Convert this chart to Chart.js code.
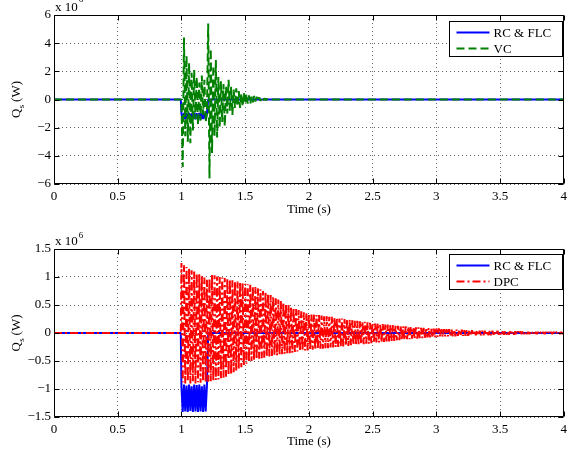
<!DOCTYPE html>
<html>
<head>
<meta charset="utf-8">
<script src="https://cdn.jsdelivr.net/npm/chart.js@4/dist/chart.umd.min.js"></script>
<style>
html, body { margin: 0; padding: 0; background: #fff; }
#wrap { position: relative; width: 572px; height: 454px; }
canvas { position: absolute; left: 0; }
</style>
</head>
<body>
<div id="wrap">
  <canvas id="topChart" width="572" height="230" style="top:0;width:572px;height:230px"></canvas>
  <canvas id="bottomChart" width="572" height="224" style="top:230px;width:572px;height:224px"></canvas>
</div>
<script>
// axis ticks
const timeTicks = [0, 0.5, 1, 1.5, 2, 2.5, 3, 3.5, 4];
const topTicks = [-6, -4, -2, 0, 2, 4, 6];
const bottomTicks = [-1.5, -1, -0.5, 0, 0.5, 1, 1.5];

// each series is zero, then a burst sampled from *Start every *Step, then zero again
// RC & FLC (upper plot), 1.0 s .. 1.2 s
const rcTopStart = 1.0, rcTopStep = 0.01;
const rcTopQ = [-1.0, -1.38, -0.95, -1.4, -0.97, -1.36, -0.95, -1.4, -1.0, -1.38,
                -0.95, -1.4, -0.98, -1.36, -0.95, -1.4, -0.97, -1.38, -0.95, -1.4, -1.0];

// VC (upper plot), 1.0 s .. 1.7 s
const vcStart = 1.0, vcStep = 0.01;
const vcQ = [0, -4.8, 4.4, -2.6, 3.1, -3.0, 2.6, -3.1, 1.9, -2.2,
             2.1, -1.4, 1.6, -1.8, 1.2, -1.5, 1.7, -1.1, 1.4, -1.6,
             -1.0, 5.4, -5.6, 3.6, -3.8, 2.4, -2.6, 2.8, -2.7, 1.6,
             -2.0, 1.3, -1.6, 1.1, -1.9, 0.9, -1.0, 1.4, -0.8, 0.9,
             -1.1, 0.7, -0.6, 0.8, -0.5, 0.6, -0.6, 0.4, -0.5, 0.5,
             -0.3, 0.4, -0.3, 0.3, -0.3, 0.2, -0.2, 0.25, -0.15, 0.2,
             -0.1, 0.15, -0.1, 0.1, -0.08, 0.08, -0.05, 0.05, -0.03, 0];

// RC & FLC (lower plot, x 10^6), 1.0 s .. 1.2 s
const rcBotStart = 1.0, rcBotStep = 0.01;
const rcBotQ = [-0.95, -1.41, -0.92, -1.4, -0.94, -1.41, -0.92, -1.39, -0.95, -1.41,
                -0.92, -1.4, -0.93, -1.41, -0.92, -1.4, -0.95, -1.41, -0.92, -1.4, -0.94];

// DPC (lower plot, x 10^6), 1.0 s .. 4.0 s
const dpcStart = 1.0, dpcStep = 0.01;
const dpcQ = [
    1.25, -0.88, 1.21, -0.9, 1.18, -0.87, 1.15, -0.9, 1.12, -0.86, 1.1, -0.9, 1.07, -0.88, 1.05, -0.89, 1.02, -0.87, 0.99, -0.88,
    0.95, -0.87, 0.98, -0.86, 1.04, -0.86, 1.03, -0.84, 1.01, -0.83, 1.0, -0.81, 0.99, -0.8, 0.98, -0.78, 0.97, -0.76, 0.96, -0.74,
    0.94, -0.7, 0.93, -0.67, 0.92, -0.64, 0.91, -0.61, 0.89, -0.58, 0.88, -0.55, 0.87, -0.52, 0.86, -0.5, 0.84, -0.48, 0.82, -0.47,
    0.8, -0.46, 0.78, -0.45, 0.75, -0.44, 0.73, -0.43, 0.7, -0.42, 0.68, -0.41, 0.65, -0.4, 0.62, -0.4, 0.6, -0.39, 0.57, -0.38,
    0.55, -0.37, 0.52, -0.36, 0.5, -0.36, 0.47, -0.35, 0.45, -0.34, 0.43, -0.33, 0.41, -0.33, 0.39, -0.32, 0.37, -0.31, 0.35, -0.31,
    0.34, -0.3, 0.33, -0.3, 0.33, -0.29, 0.32, -0.29, 0.32, -0.28, 0.31, -0.28, 0.3, -0.27, 0.3, -0.27, 0.29, -0.26, 0.29, -0.26,
    0.28, -0.25, 0.27, -0.25, 0.26, -0.24, 0.26, -0.24, 0.25, -0.23, 0.24, -0.23, 0.24, -0.22, 0.23, -0.22, 0.22, -0.21, 0.22, -0.21,
    0.21, -0.2, 0.2, -0.2, 0.2, -0.19, 0.19, -0.19, 0.18, -0.18, 0.18, -0.18, 0.17, -0.17, 0.17, -0.17, 0.16, -0.16, 0.16, -0.16,
    0.15, -0.15, 0.15, -0.15, 0.14, -0.14, 0.14, -0.14, 0.13, -0.13, 0.13, -0.13, 0.12, -0.12, 0.12, -0.12, 0.12, -0.11, 0.11, -0.11,
    0.11, -0.1, 0.1, -0.1, 0.1, -0.1, 0.1, -0.09, 0.09, -0.09, 0.09, -0.09, 0.09, -0.08, 0.09, -0.08, 0.08, -0.08, 0.08, -0.08,
    0.08, -0.07, 0.08, -0.07, 0.07, -0.07, 0.07, -0.06, 0.07, -0.06, 0.07, -0.06, 0.06, -0.06, 0.06, -0.06, 0.06, -0.05, 0.06, -0.05,
    0.06, -0.05, 0.05, -0.05, 0.05, -0.05, 0.05, -0.05, 0.05, -0.04, 0.05, -0.04, 0.05, -0.04, 0.04, -0.04, 0.04, -0.04, 0.04, -0.04,
    0.04, -0.04, 0.04, -0.04, 0.04, -0.03, 0.04, -0.03, 0.04, -0.03, 0.03, -0.03, 0.03, -0.03, 0.03, -0.03, 0.03, -0.03, 0.03, -0.03,
    0.03, -0.03, 0.03, -0.03, 0.03, -0.02, 0.03, -0.02, 0.03, -0.02, 0.02, -0.02, 0.02, -0.02, 0.02, -0.02, 0.02, -0.02, 0.02, -0.02,
    0.02, -0.02, 0.02, -0.02, 0.02, -0.02, 0.02, -0.02, 0.02, -0.02, 0.02, -0.02, 0.02, -0.015, 0.02, -0.015, 0.015, -0.015, 0.015, -0.015,
    0.01
];

const FONT = 'Liberation Serif';
Chart.defaults.font.family = FONT;
Chart.defaults.color = '#000';

function toPoints(start, step, values) {
    const pts = [{x: 0, y: 0}, {x: start - step / 2, y: 0}];
    values.forEach((v, i) => pts.push({x: +(start + i * step).toFixed(4), y: v}));
    const end = start + values.length * step;
    if (end < 4) {
        pts.push({x: end, y: 0}, {x: 4, y: 0});
    }
    return pts;
}

function fmt(v) {
    return String(v).replace('-', '\u2212');
}

// matlab style box, inner ticks, legend and texts
const matlabAxes = {
    id: 'matlabAxes',
    afterDatasetsDraw(chart, args, opts) {
        const {ctx, chartArea: a, scales} = chart;
        const L = Math.round(a.left) + 0.5, R = Math.round(a.right) - 0.5;
        const T = Math.round(a.top) + 0.5, B = Math.round(a.bottom) - 0.5;
        ctx.save();
        ctx.setLineDash([]);
        ctx.strokeStyle = '#000';
        ctx.lineWidth = 1;
        ctx.beginPath();
        ctx.rect(L, T, R - L, B - T);
        timeTicks.forEach(v => {
            const px = Math.round(scales.x.getPixelForValue(v)) + 0.5;
            ctx.moveTo(px, B); ctx.lineTo(px, B - 5);
            ctx.moveTo(px, T); ctx.lineTo(px, T + 5);
        });
        opts.yTicks.forEach(v => {
            const py = Math.round(scales.y.getPixelForValue(v)) + 0.5;
            ctx.moveTo(L, py); ctx.lineTo(L + 5, py);
            ctx.moveTo(R, py); ctx.lineTo(R - 5, py);
        });
        ctx.stroke();

        // legend
        const w = 113, h = 35;
        const lx = Math.round(a.right) - 2 - w + 0.5, ly = T + opts.legendTop;
        ctx.fillStyle = '#fff';
        ctx.fillRect(lx, ly, w, h);
        ctx.strokeRect(lx, ly, w, h);
        ctx.font = '13px ' + FONT;
        ctx.textBaseline = 'middle';
        chart.data.datasets.forEach((ds, i) => {
            const ry = ly + 11 + i * 16;
            ctx.strokeStyle = ds.borderColor;
            ctx.lineWidth = ds.borderWidth;
            ctx.setLineDash(ds.borderDash || []);
            ctx.beginPath();
            ctx.moveTo(lx + 7, ry);
            ctx.lineTo(lx + 40, ry);
            ctx.stroke();
            ctx.fillStyle = '#000';
            ctx.fillText(ds.label, lx + 44, ry + 1);
        });
        ctx.restore();
    },
    afterDraw(chart, args, opts) {
        const {ctx, chartArea: a} = chart;
        ctx.save();
        ctx.fillStyle = '#000';
        ctx.font = '13px ' + FONT;
        ctx.textAlign = 'center';
        ctx.textBaseline = 'middle';
        ctx.fillText('Time (s)', (a.left + a.right) / 2, a.bottom + opts.titleGap);

        // exponent label
        ctx.textAlign = 'left';
        ctx.textBaseline = 'alphabetic';
        ctx.fillText('x 10', a.left + 1, a.top - 4);
        const w10 = ctx.measureText('x 10').width;
        ctx.font = '9px ' + FONT;
        ctx.fillText(opts.exponent, a.left + 2 + w10, a.top - opts.supRise);

        // y title with subscript
        ctx.translate(17, (a.top + a.bottom) / 2);
        ctx.rotate(-Math.PI / 2);
        ctx.font = '13px ' + FONT;
        const wQ = ctx.measureText('Q').width;
        const wRest = ctx.measureText(' (W)').width;
        ctx.font = '9px ' + FONT;
        const wS = ctx.measureText('s').width;
        const x0 = -(wQ + wS + wRest) / 2;
        ctx.textBaseline = 'middle';
        ctx.font = '13px ' + FONT;
        ctx.fillText('Q', x0, 0);
        ctx.fillText(' (W)', x0 + wQ + wS, 0);
        ctx.font = '9px ' + FONT;
        ctx.fillText('s', x0 + wQ + 0.5, 5);
        ctx.restore();
    }
};

function makeChart(canvasId, sets, yMin, yMax, yTicks, pad, xHeight, extra) {
    const ctx = document.getElementById(canvasId).getContext('2d');
    return new Chart(ctx, {
        type: 'line',
        data: {
            datasets: sets
        },
        options: {
            responsive: false,
            animation: false,
            layout: { padding: pad },
            elements: {
                point: { radius: 0 },
                line: { tension: 0, borderJoinStyle: 'bevel', borderCapStyle: 'butt' }
            },
            plugins: {
                legend: { display: false },
                tooltip: { enabled: false },
                matlabAxes: Object.assign({ yTicks: yTicks }, extra)
            },
            scales: {
                x: {
                    type: 'linear',
                    min: 0,
                    max: 4,
                    afterBuildTicks: s => { s.ticks = timeTicks.map(v => ({value: v})); },
                    afterFit: s => { s.height = xHeight; },
                    ticks: { font: { size: 13 }, color: '#000', padding: 5, maxRotation: 0,
                             callback: v => fmt(v) },
                    grid: { color: 'rgba(0,0,0,0.6)', lineWidth: 1, drawTicks: false },
                    border: { display: false, dash: [1, 3] }
                },
                y: {
                    min: yMin,
                    max: yMax,
                    afterBuildTicks: s => { s.ticks = yTicks.map(v => ({value: v})); },
                    afterFit: s => { s.width = 54; },
                    ticks: { font: { size: 13 }, color: '#000', padding: 3,
                             callback: v => fmt(v) },
                    grid: { color: 'rgba(0,0,0,0.6)', lineWidth: 1, drawTicks: false },
                    border: { display: false, dash: [1, 3] }
                }
            }
        },
        plugins: [matlabAxes]
    });
}

// second dataset is drawn on top (lower order)
makeChart('topChart', [
    {
        label: 'RC & FLC',
        data: toPoints(rcTopStart, rcTopStep, rcTopQ),
        borderColor: '#0000ff',
        borderWidth: 2,
        order: 2
    },
    {
        label: 'VC',
        data: toPoints(vcStart, vcStep, vcQ),
        borderColor: '#008000',
        borderWidth: 2,
        borderDash: [8, 4],
        order: 1
    }
], -6, 6, topTicks, { top: 15, right: 8, left: 0, bottom: 0 }, 46,
   { legendTop: 6, titleGap: 26, exponent: '6', supRise: 13 });

makeChart('bottomChart', [
    {
        label: 'RC & FLC',
        data: toPoints(rcBotStart, rcBotStep, rcBotQ),
        borderColor: '#0000ff',
        borderWidth: 2,
        order: 2
    },
    {
        label: 'DPC',
        data: toPoints(dpcStart, dpcStep, dpcQ),
        borderColor: '#ff0000',
        borderWidth: 2,
        borderDash: [8, 3, 2, 3],
        order: 1
    }
], -1.5, 1.5, bottomTicks, { top: 19, right: 8, left: 0, bottom: 0 }, 37,
   { legendTop: 5, titleGap: 25, exponent: '6', supRise: 11 });
</script>
</body>
</html>
